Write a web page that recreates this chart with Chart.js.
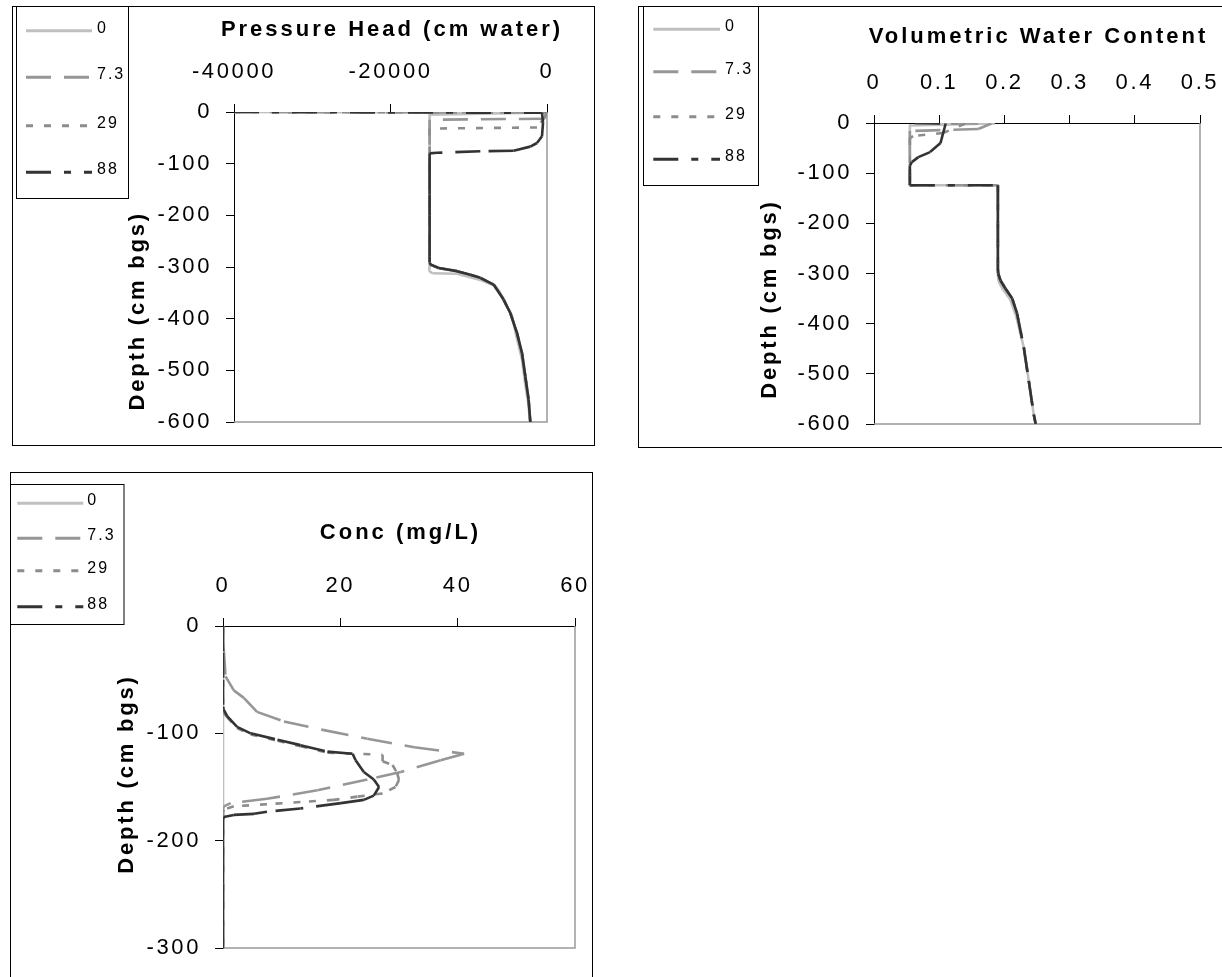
<!DOCTYPE html>
<html>
<head>
<meta charset="utf-8">
<title>Soil profiles</title>
<script src="https://cdn.jsdelivr.net/npm/chart.js@4.4.1/dist/chart.umd.min.js"></script>
<style>
  html, body { margin: 0; padding: 0; background: #fff; }
  body { position: relative; width: 1222px; height: 977px; overflow: hidden; }
  .panel { position: absolute; box-sizing: border-box; border: 1px solid #000; background: #fff; }
  .panel canvas { position: absolute; left: 0; top: 0; }
</style>
</head>
<body>
<div class="panel" style="left:12px; top:6px; width:583px; height:440px;">
  <canvas id="headChart" width="581" height="438"></canvas>
</div>
<div class="panel" style="left:638px; top:6px; width:600px; height:442px;">
  <canvas id="thetaChart" width="598" height="440"></canvas>
</div>
<div class="panel" style="left:10px; top:472px; width:583px; height:520px;">
  <canvas id="concChart" width="581" height="518"></canvas>
</div>

<script>
/* =========================
   Data
========================= */
const seriesLabels = ["0", "7.3", "29", "88"];

// Pressure head (cm water) vs depth (cm bgs)
const headDepth0  = [0, -1, -5, -301, -307, -312, -313, -325, -337, -350, -395, -441, -479, -528, -567, -600];
const headValue0  = [-40000, -30, -15000, -15000, -15100, -14660, -11500, -8520, -6610, -5970, -4470, -3800, -3190, -2770, -2350, -2200];
const headDepth7  = [0, -1, -13, -15, -295, -302, -308, -315, -321, -334, -363, -389, -428, -467, -512, -557, -600];
const headValue7  = [-40000, -30, -400, -15000, -15000, -13850, -11500, -9800, -8520, -6820, -5550, -4690, -3830, -3190, -2770, -2350, -2130];
const headDepth29 = [0, -1, -10, -30, -32, -295, -302, -308, -315, -321, -334, -363, -389, -428, -467, -512, -557, -600];
const headValue29 = [-40000, -30, -250, -1280, -15000, -15000, -13850, -11500, -9800, -8520, -6820, -5550, -4690, -3830, -3190, -2770, -2350, -2130];
const headDepth88 = [0, -1.5, -21, -47, -60, -67, -75, -76, -79, -80, -120, -160, -200, -240, -280, -291, -295, -302, -308, -315, -321, -334, -363, -389, -428, -467, -512, -557, -600];
const headValue88 = [-40000, -640, -510, -640, -1280, -2130, -4270, -8520, -14060, -15000, -15000, -15000, -15000, -15000, -15000, -15000, -14900, -13850, -11500, -9800, -8520, -6820, -5550, -4690, -3830, -3190, -2770, -2350, -2130];

// Volumetric water content vs depth
const thetaDepth0  = [0, -1, -5, -124, -124, -302, -315, -332, -352, -385, -447, -514, -581, -600];
const thetaValue0  = [0.063, 0.185, 0.055, 0.055, 0.19, 0.19, 0.191, 0.198, 0.209, 0.218, 0.2297, 0.2374, 0.245, 0.248];
const thetaDepth7  = [0, -1, -12, -16, -124, -124, -291, -300, -314, -330, -350, -380, -447, -514, -581, -600];
const thetaValue7  = [0.063, 0.18, 0.16, 0.055, 0.055, 0.19, 0.19, 0.1905, 0.194, 0.2015, 0.212, 0.2195, 0.2297, 0.2374, 0.245, 0.248];
const thetaDepth29 = [0, -1, -20, -26, -30, -124, -124, -291, -300, -314, -330, -350, -380, -447, -514, -581, -600];
const thetaValue29 = [0.063, 0.14, 0.106, 0.06, 0.055, 0.055, 0.19, 0.19, 0.1905, 0.194, 0.2015, 0.212, 0.2195, 0.2297, 0.2374, 0.245, 0.248];
const thetaDepth88 = [0, -1, -20, -40, -58, -68, -78, -85, -105, -124, -124, -160, -200, -240, -280, -291, -300, -314, -330, -350, -380, -447, -514, -581, -600];
const thetaValue88 = [0.063, 0.11, 0.106, 0.102, 0.086, 0.068, 0.058, 0.055, 0.055, 0.055, 0.19, 0.19, 0.19, 0.19, 0.19, 0.19, 0.1905, 0.194, 0.2015, 0.212, 0.2195, 0.2297, 0.2374, 0.245, 0.248];

// Concentration (mg/L) vs depth
const concDepth0  = [0, -300];
const concValue0  = [0, 0];
const concDepth7  = [0, -20, -22, -47, -60, -67, -80, -89, -97, -105, -113, -119, -125, -136, -143, -153, -161, -165, -168, -170, -300];
const concValue7  = [0, 0, 0.14, 0.43, 1.84, 3.55, 5.8, 10.4, 17.2, 24.6, 32.6, 41.1, 37.1, 30.3, 24.6, 16.1, 7.5, 1.3, 0.14, 0, 0];
const concDepth29 = [0, -25, -50, -80, -85, -95, -101, -107, -112, -118, -120, -126, -129.5, -137, -143.5, -150, -156, -159, -162, -164, -166, -168, -171, -173, -300];
const concValue29 = [0, 0, 0, 0, 0.7, 2.4, 4.7, 9.3, 13.2, 17.8, 27.2, 27.2, 28.9, 29.7, 30.0, 29.4, 27.2, 22.9, 18.9, 13.2, 7.5, 1.84, 0.14, 0, 0];
const concDepth88 = [0, -25, -50, -75, -78, -84, -94, -100, -106, -111, -117, -119, -125, -136, -143, -150, -158, -162, -165, -170, -173, -175, -176, -178, -180, -200, -220, -240, -260, -280, -300];
const concValue88 = [0, 0, 0, 0, 0.14, 0.7, 2.4, 4.7, 9.3, 13.2, 17.8, 22.1, 22.6, 24.0, 25.7, 26.6, 25.7, 24.0, 20.1, 13.2, 7.5, 5.3, 1.84, 0.14, 0, 0, 0, 0, 0, 0, 0];

// Axis ticks
const headTicks = [-40000, -20000, 0];
const headTickLabels = ["-40000", "-20000", "0"];
const thetaTicks = [0, 0.1, 0.2, 0.3, 0.4, 0.5];
const thetaTickLabels = ["0", "0.1", "0.2", "0.3", "0.4", "0.5"];
const concTicks = [0, 20, 40, 60];
const concTickLabels = ["0", "20", "40", "60"];
const depthTicks600 = [0, -100, -200, -300, -400, -500, -600];
const depthTickLabels600 = ["0", "-100", "-200", "-300", "-400", "-500", "-600"];
const depthTicks300 = [0, -100, -200, -300];
const depthTickLabels300 = ["0", "-100", "-200", "-300"];


/* =========================
   Styles
========================= */
const FONT = '"Liberation Sans", Arial, sans-serif';
const seriesColors = ["#c0c0c0", "#969696", "#8c8c8c", "#333333"];
const seriesDashes = [[], [25, 13], [7, 11], [25, 13, 7, 13]];

Chart.defaults.font.family = FONT;
Chart.defaults.color = "#000";

const tickFont = { family: FONT, size: 22 };


/* =========================
   Plot frame, titles, legend box
========================= */
const panelDecor = {
    id: "panelDecor",
    beforeDraw(chart) {
        chart.ctx.letterSpacing = "2.6px";
    },
    beforeDatasetsDraw(chart) {
        const { ctx, chartArea: a } = chart;
        ctx.save();
        ctx.setLineDash([]);
        ctx.strokeStyle = "#999";
        ctx.lineWidth = 1.5;
        ctx.beginPath();
        ctx.moveTo(a.right, a.top);
        ctx.lineTo(a.right, a.bottom);
        ctx.lineTo(a.left, a.bottom);
        ctx.stroke();
        ctx.restore();
    },
    afterDraw(chart, args, opts) {
        const ctx = chart.ctx;
        const a = chart.chartArea;

        // x title (drawn here so it is not squeezed to the plot width)
        ctx.save();
        ctx.font = "bold 22px " + FONT;
        ctx.letterSpacing = "3px";
        ctx.fillStyle = "#000";
        ctx.textAlign = "center";
        ctx.textBaseline = "middle";
        ctx.fillText(opts.xTitle.text, (a.left + a.right) / 2 + 1.5, opts.xTitle.y);
        ctx.restore();

        // rotated y title
        const t = opts.yTitle;
        ctx.save();
        ctx.translate(t.x, t.y);
        ctx.rotate(-Math.PI / 2);
        ctx.font = "bold 22px " + FONT;
        ctx.letterSpacing = "2.8px";
        ctx.fillStyle = "#000";
        ctx.textAlign = "center";
        ctx.textBaseline = "middle";
        ctx.fillText(t.text, 0, 0);
        ctx.restore();

        // legend box
        const lg = opts.legend;
        ctx.save();
        ctx.letterSpacing = "0px";
        ctx.setLineDash([]);
        ctx.fillStyle = "#fff";
        ctx.fillRect(lg.box[0], lg.box[1], lg.box[2], lg.box[3]);
        ctx.strokeStyle = "#000";
        ctx.lineWidth = 1;
        ctx.strokeRect(lg.box[0], lg.box[1], lg.box[2], lg.box[3]);

        chart.data.datasets.forEach((ds, i) => {
            const y = lg.rows[i];
            ctx.strokeStyle = ds.borderColor;
            ctx.lineWidth = 3;
            ctx.setLineDash(ds.borderDash);
            ctx.beginPath();
            ctx.moveTo(lg.x1, y);
            ctx.lineTo(lg.x2, y);
            ctx.stroke();

            ctx.setLineDash([]);
            ctx.fillStyle = "#000";
            ctx.font = "16px " + FONT;
            ctx.letterSpacing = "2px";
            ctx.textAlign = "left";
            ctx.textBaseline = "middle";
            ctx.fillText(ds.label, lg.textX, y - 2.5);
        });
        ctx.restore();
    }
};


/* =========================
   Chart builder
========================= */
function toPoints(xs, ys) {
    return xs.map((x, i) => ({ x: x, y: ys[i] }));
}

function buildDatasets(values, depths) {
    return seriesLabels.map((label, i) => ({
        label: label,
        data: toPoints(values[i], depths[i]),
        borderColor: seriesColors[i],
        borderDash: seriesDashes[i],
        borderWidth: 2.6,
        borderCapStyle: "butt",
        borderJoinStyle: "round",
        pointRadius: 0,
        pointHoverRadius: 0,
        fill: false,
        tension: 0,
        order: 3 - i,
        // excel restarts the dash pattern on every segment
        segment: {
            borderDash: () => seriesDashes[i],
            borderDashOffset: ctx => (ctx.p0DataIndex % 2) * 0.001
        }
    }));
}

function makeChart(id, s) {
    return new Chart(document.getElementById(id), {
        type: "line",
        data: { datasets: buildDatasets(s.values, s.depths) },
        options: {
            responsive: false,
            animation: false,
            devicePixelRatio: 1,
            events: [],
            layout: { padding: s.padding },
            plugins: {
                legend: { display: false },
                tooltip: { enabled: false },
                panelDecor: { xTitle: s.xTitle, yTitle: s.yTitle, legend: s.legend }
            },
            scales: {
                x: {
                    type: "linear",
                    position: "top",
                    min: s.xTicks[0],
                    max: s.xTicks[s.xTicks.length - 1],
                    afterBuildTicks: sc => { sc.ticks = s.xTicks.map(v => ({ value: v })); },
                    afterFit: sc => {
                        sc.height = s.xHeight;
                        sc.paddingLeft = 0;
                        sc.paddingRight = 0;
                    },
                    ticks: {
                        callback: (v, i) => s.xLabels[i],
                        font: tickFont, color: "#000", padding: 19,
                        autoSkip: false, maxRotation: 0
                    },
                    grid: { drawOnChartArea: false, drawTicks: true, tickLength: 8, color: "#000", lineWidth: 1 },
                    border: { display: true, color: "#000", width: 1 },
                    title: { display: false }
                },
                y: {
                    type: "linear",
                    position: "left",
                    min: s.yTicks[s.yTicks.length - 1],
                    max: s.yTicks[0],
                    afterBuildTicks: sc => { sc.ticks = s.yTicks.map(v => ({ value: v })); },
                    afterFit: sc => {
                        sc.width = s.yWidth;
                        sc.paddingTop = 0;
                        sc.paddingBottom = 0;
                    },
                    ticks: {
                        callback: (v, i) => s.yLabels[i],
                        font: tickFont, color: "#000", padding: 14,
                        autoSkip: false
                    },
                    grid: { drawOnChartArea: false, drawTicks: true, tickLength: 8, color: "#000", lineWidth: 1 },
                    border: { display: true, color: "#000", width: 1 },
                    title: { display: false }
                }
            }
        },
        plugins: [panelDecor]
    });
}


/* =========================
   Panels
========================= */
makeChart("headChart", {
    values: [headValue0, headValue7, headValue29, headValue88],
    depths: [headDepth0, headDepth7, headDepth29, headDepth88],
    xTicks: headTicks, xLabels: headTickLabels,
    yTicks: depthTicks600, yLabels: depthTickLabels600,
    padding: { left: 0, top: 0, right: 47, bottom: 23 },
    xHeight: 105, yWidth: 221,
    xTitle: { text: "Pressure Head (cm water)", y: 22.5 },
    yTitle: { text: "Depth (cm bgs)", x: 124.7, y: 303.8 },
    legend: { box: [3.5, -0.5, 112, 192], x1: 13, x2: 79, textX: 84, rows: [23.7, 70.3, 118.7, 165.3] }
});

makeChart("thetaChart", {
    values: [thetaValue0, thetaValue7, thetaValue29, thetaValue88],
    depths: [thetaDepth0, thetaDepth7, thetaDepth29, thetaDepth88],
    xTicks: thetaTicks, xLabels: thetaTickLabels,
    yTicks: depthTicks600, yLabels: depthTickLabels600,
    padding: { left: 0, top: 0, right: 37, bottom: 23 },
    xHeight: 116, yWidth: 235,
    xTitle: { text: "Volumetric Water Content", y: 30 },
    yTitle: { text: "Depth (cm bgs)", x: 131, y: 292 },
    legend: { box: [4.5, -0.5, 115, 179], x1: 14.3, x2: 81, textX: 86, rows: [22.3, 64.7, 109.7, 152.3] }
});

makeChart("concChart", {
    values: [concValue0, concValue7, concValue29, concValue88],
    depths: [concDepth0, concDepth7, concDepth29, concDepth88],
    xTicks: concTicks, xLabels: concTickLabels,
    yTicks: depthTicks300, yLabels: depthTickLabels300,
    padding: { left: 0, top: 0, right: 17, bottom: 43 },
    xHeight: 153, yWidth: 212,
    xTitle: { text: "Conc (mg/L)", y: 60 },
    yTitle: { text: "Depth (cm bgs)", x: 116, y: 301 },
    legend: { box: [-0.5, 11.5, 113.5, 140], x1: 6.3, x2: 72.3, textX: 76.3, rows: [30.3, 65.3, 97.7, 133.7] }
});
</script>
</body>
</html>
